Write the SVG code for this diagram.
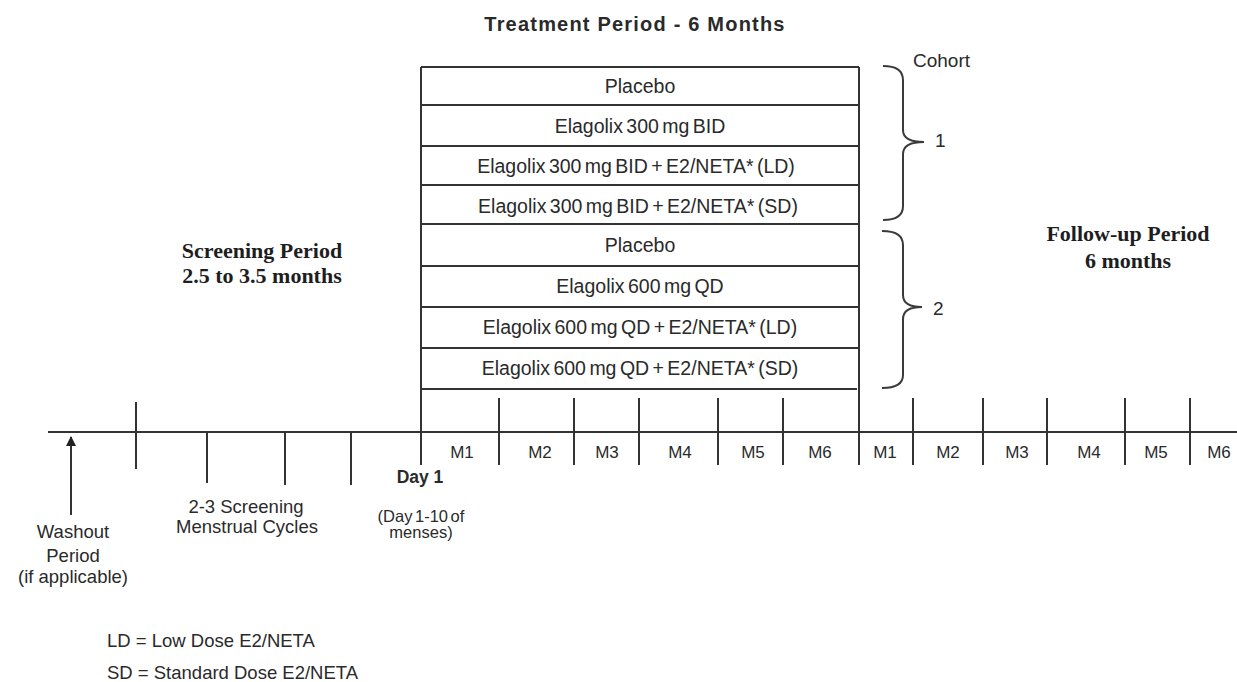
<svg xmlns="http://www.w3.org/2000/svg" width="1237" height="682" viewBox="0 0 1237 682">
  <defs>
    <marker id="arrowUp" viewBox="0 0 10 10" refX="9" refY="5" markerWidth="11" markerHeight="10" markerUnits="userSpaceOnUse" orient="auto">
      <path d="M0,0 L10,5 L0,10 Z" fill="#222"/>
    </marker>
    <style>
      .ln { stroke: #333; stroke-width: 2; fill: none; }
      .brace { stroke: #3a3a3a; stroke-width: 2; fill: none; }
      .sans { font-family: "Liberation Sans", Arial, sans-serif; fill: #2a2a2a; }
      .row { font-size: 19.5px; word-spacing: -2px; text-anchor: middle; }
      .mon { font-size: 17px; text-anchor: middle; }
      .lbl { font-size: 18.5px; text-anchor: middle; }
      .serif { font-family: "Liberation Serif", "Times New Roman", serif; font-weight: bold; fill: #1e1e1e; font-size: 22px; text-anchor: middle; }
    </style>
  </defs>

  <rect width="1237" height="682" fill="#ffffff"/>

  <!-- heading over the treatment block -->
  <g id="title">
    <text class="sans" x="635" y="31" font-size="20" font-weight="bold" letter-spacing="1.2" text-anchor="middle" fill="#1a1a1a">Treatment Period -  6 Months</text>
  </g>

  <!-- treatment arms -->
  <g id="treatment-block">
    <line class="ln" x1="421" y1="67" x2="421" y2="465"/>
    <line class="ln" x1="859" y1="67" x2="859" y2="465"/>
    <line class="ln" x1="421" y1="67" x2="859" y2="67"/>
    <g id="arm-1a"><line class="ln" x1="421" y1="105" x2="859" y2="105"/><text class="sans row" x="640" y="93">Placebo</text></g>
    <g id="arm-1b"><line class="ln" x1="421" y1="146" x2="859" y2="146"/><text class="sans row" x="640" y="133">Elagolix 300 mg BID</text></g>
    <g id="arm-1c"><line class="ln" x1="421" y1="185" x2="859" y2="185"/><text class="sans row" x="636" y="173">Elagolix 300 mg BID + E2/NETA* (LD)</text></g>
    <g id="arm-1d"><line class="ln" x1="421" y1="224" x2="859" y2="224"/><text class="sans row" x="638" y="213">Elagolix 300 mg BID + E2/NETA* (SD)</text></g>
    <g id="arm-2a"><line class="ln" x1="421" y1="266" x2="859" y2="266"/><text class="sans row" x="640" y="252">Placebo</text></g>
    <g id="arm-2b"><line class="ln" x1="421" y1="307" x2="859" y2="307"/><text class="sans row" x="640" y="293">Elagolix 600 mg QD</text></g>
    <g id="arm-2c"><line class="ln" x1="421" y1="348" x2="859" y2="348"/><text class="sans row" x="640" y="334">Elagolix 600 mg QD + E2/NETA* (LD)</text></g>
    <g id="arm-2d"><line class="ln" x1="421" y1="389" x2="857" y2="389"/><text class="sans row" x="640" y="375">Elagolix 600 mg QD + E2/NETA* (SD)</text></g>
  </g>

  <!-- cohort braces -->
  <g id="cohorts">
    <text class="sans" x="913" y="67" font-size="19">Cohort</text>
    <g id="cohort-1">
      <path class="brace" d="M883,66 C896,66 903,70 903,80 L903,130 C903,138 910,142 924,142 C910,142 903,146 903,154 L903,206 C903,216 896,220 883,220"/>
      <text class="sans" x="935" y="147" font-size="19">1</text>
    </g>
    <g id="cohort-2">
      <path class="brace" d="M882,231 C895,231 903,235 903,245 L903,295 C903,303 910,307 922,307 C910,307 903,311 903,319 L903,375 C903,384 895,388 882,388"/>
      <text class="sans" x="933" y="315" font-size="19">2</text>
    </g>
  </g>

  <!-- period captions -->
  <g id="screening-period">
    <text class="serif" x="262" y="258">Screening Period</text>
    <text class="serif" x="262" y="283">2.5 to 3.5 months</text>
  </g>
  <g id="followup-period">
    <text class="serif" x="1128" y="241">Follow-up Period</text>
    <text class="serif" x="1128" y="268">6 months</text>
  </g>

  <!-- time axis, ticks and the washout arrow -->
  <g id="connectors">
    <line class="ln" x1="48" y1="432" x2="1237" y2="432"/>
    <line class="ln" x1="136" y1="402" x2="136" y2="469"/>
    <line class="ln" x1="207" y1="432" x2="207" y2="483"/>
    <line class="ln" x1="285" y1="432" x2="285" y2="485"/>
    <line class="ln" x1="351" y1="432" x2="351" y2="485"/>
    <line class="ln" x1="499" y1="398" x2="499" y2="465"/>
    <line class="ln" x1="574" y1="398" x2="574" y2="465"/>
    <line class="ln" x1="639" y1="398" x2="639" y2="465"/>
    <line class="ln" x1="718" y1="398" x2="718" y2="465"/>
    <line class="ln" x1="783" y1="398" x2="783" y2="465"/>
    <line class="ln" x1="913" y1="398" x2="913" y2="465"/>
    <line class="ln" x1="983" y1="398" x2="983" y2="465"/>
    <line class="ln" x1="1047" y1="398" x2="1047" y2="465"/>
    <line class="ln" x1="1125" y1="398" x2="1125" y2="465"/>
    <line class="ln" x1="1190" y1="398" x2="1190" y2="465"/>
    <line class="ln" x1="71" y1="515" x2="71" y2="437" marker-end="url(#arrowUp)"/>
  </g>

  <!-- month labels -->
  <g id="months-treatment">
    <text class="sans mon" x="462" y="458">M1</text>
    <text class="sans mon" x="540" y="458">M2</text>
    <text class="sans mon" x="607" y="458">M3</text>
    <text class="sans mon" x="680" y="458">M4</text>
    <text class="sans mon" x="753" y="458">M5</text>
    <text class="sans mon" x="820" y="458">M6</text>
  </g>
  <g id="months-followup">
    <text class="sans mon" x="885" y="458">M1</text>
    <text class="sans mon" x="948" y="458">M2</text>
    <text class="sans mon" x="1017" y="458">M3</text>
    <text class="sans mon" x="1089" y="458">M4</text>
    <text class="sans mon" x="1156" y="458">M5</text>
    <text class="sans mon" x="1219" y="458">M6</text>
  </g>

  <!-- timeline annotations -->
  <g id="day1">
    <text class="sans" x="420" y="483" font-size="17.5" font-weight="bold" text-anchor="middle" fill="#1a1a1a">Day 1</text>
    <text class="sans" x="421" y="522" font-size="16.5" text-anchor="middle" word-spacing="-2">(Day 1-10 of</text>
    <text class="sans" x="421" y="538" font-size="16.5" text-anchor="middle">menses)</text>
  </g>
  <g id="screening-cycles">
    <text class="sans lbl" x="246" y="513">2-3 Screening</text>
    <text class="sans lbl" x="247" y="533">Menstrual Cycles</text>
  </g>
  <g id="washout">
    <text class="sans lbl" x="73" y="538">Washout</text>
    <text class="sans lbl" x="73" y="562">Period</text>
    <text class="sans lbl" x="73" y="583">(if applicable)</text>
  </g>

  <!-- abbreviations -->
  <g id="legend">
    <text class="sans" x="107" y="647" font-size="18.5">LD = Low Dose E2/NETA</text>
    <text class="sans" x="107" y="679" font-size="18.5">SD = Standard Dose E2/NETA</text>
  </g>
</svg>
